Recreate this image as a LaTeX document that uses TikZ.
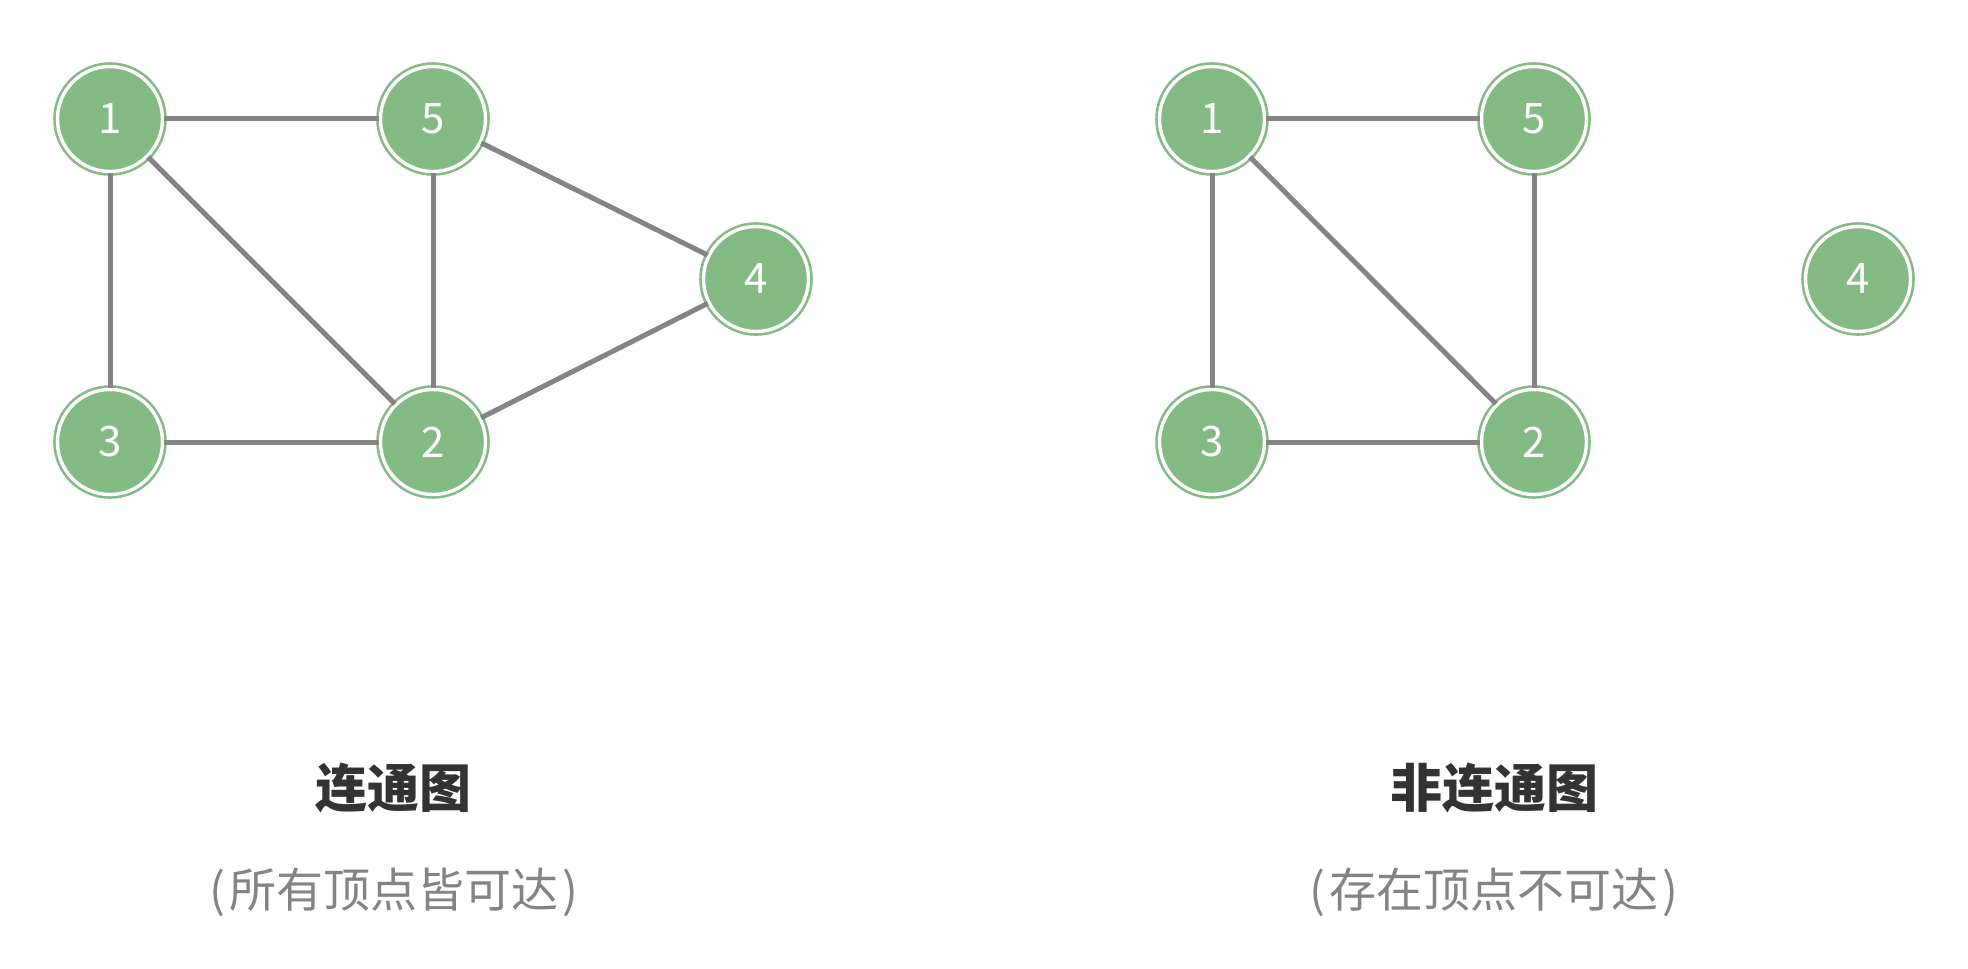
\documentclass[tikz,border=0pt]{standalone}
\usepackage{fontspec}
\setmainfont{Noto Sans CJK SC}
\definecolor{vgreen}{RGB}{132,187,132}
\definecolor{egray}{RGB}{132,132,132}
\definecolor{tdark}{RGB}{51,51,51}
\tikzset{
  vert/.style={circle,fill=vgreen,draw=vgreen,double=white,line width=1.3pt,double distance=1.7pt,
    minimum size=52.5pt,inner sep=0pt,text=white,font=\fontsize{21}{21}\selectfont},
  edge/.style={draw=egray,line width=2.5pt},
  title/.style={text=tdark,font=\fontsize{26}{26}\selectfont\bfseries},
  note/.style={text=egray,font=\fontsize{23.5}{23.5}\selectfont}
}
\begin{document}
\begin{tikzpicture}[x=0.5pt,y=-0.5pt]
\useasboundingbox (0,0) rectangle (1968,968);
% connected graph
\node[vert] (a1) at (110,119) {1};
\node[vert] (a5) at (433,119) {5};
\node[vert] (a4) at (756,279) {4};
\node[vert] (a3) at (110,442) {3};
\node[vert] (a2) at (433,442) {2};
\draw[edge] (a1) -- (a5); \draw[edge] (a1) -- (a3); \draw[edge] (a1) -- (a2);
\draw[edge] (a5) -- (a2); \draw[edge] (a3) -- (a2);
\draw[edge] (a5) -- (a4); \draw[edge] (a2) -- (a4);
\node[title] (ta) at (393,788) {连通图};
\node[note] (na) at (394,892) {(\kern2pt所有顶点皆可达\kern2pt)};
% disconnected graph
\node[vert] (b1) at (1212,119) {1};
\node[vert] (b5) at (1534,119) {5};
\node[vert] (b4) at (1858,279) {4};
\node[vert] (b3) at (1212,442) {3};
\node[vert] (b2) at (1534,442) {2};
\draw[edge] (b1) -- (b5); \draw[edge] (b1) -- (b3); \draw[edge] (b1) -- (b2);
\draw[edge] (b5) -- (b2); \draw[edge] (b3) -- (b2);
\node[title] (tb) at (1494,788) {非连通图};
\node[note] (nb) at (1494,892) {(\kern2pt存在顶点不可达\kern2pt)};
\end{tikzpicture}
\end{document}
